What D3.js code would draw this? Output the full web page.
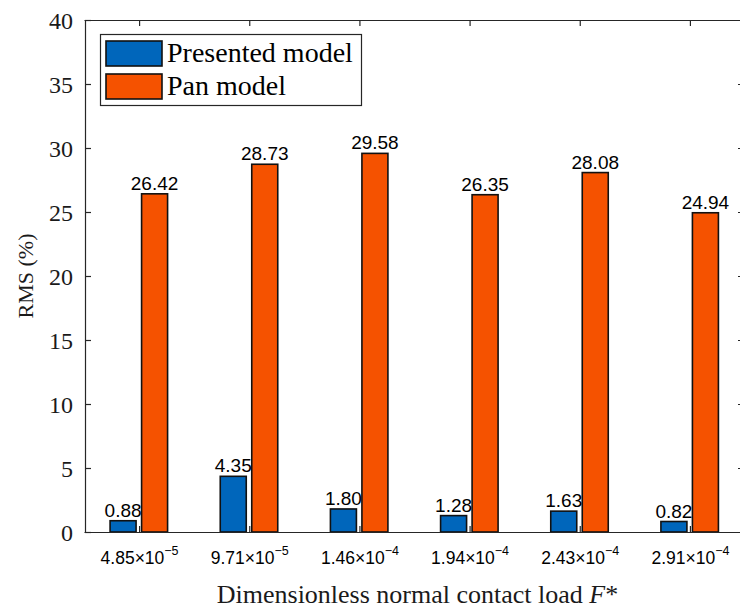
<!DOCTYPE html>
<html>
<head>
<meta charset="utf-8">
<script src="https://cdn.jsdelivr.net/npm/d3@7"></script>
<style>
  body { margin: 0; background: #fff; }
  svg { display: block; }
</style>
</head>
<body>
<svg id="chart" width="740" height="608"></svg>
<script>
const categoryMantissa = ["4.85", "9.71", "1.46", "1.94", "2.43", "2.91"];
const categoryExponent = ["\u22125", "\u22125", "\u22124", "\u22124", "\u22124", "\u22124"];
const seriesNames = ["Presented model", "Pan model"];
const presentedValues = [0.88, 4.35, 1.80, 1.28, 1.63, 0.82];
const panValues = [26.42, 28.73, 29.58, 26.35, 28.08, 24.94];
const valueLabelsPresented = ["0.88", "4.35", "1.80", "1.28", "1.63", "0.82"];
const valueLabelsPan = ["26.42", "28.73", "29.58", "26.35", "28.08", "24.94"];
const yTicks = [0, 5, 10, 15, 20, 25, 30, 35, 40];

const colors = ["#0066BB", "#F55200"];
const axisColor = "#262626";
const serif = "'Liberation Serif', 'Times New Roman', serif";
const sans = "'Liberation Sans', Arial, sans-serif";

const svg = d3.select("#chart");
const mLeft = 85, mRight = 744, mTop = 20, mBottom = 532;

const idx = categoryMantissa.map((d, i) => i + 1);
const x = d3.scaleLinear().domain([0.5, 6.5]).range([mLeft - 1, mRight + 1]);
const y = d3.scaleLinear().domain([0, 40]).range([mBottom, mTop]);

const barW = 26;
const offsets = [-16, 15.5];

const series = [presentedValues, panValues];
const labels = [valueLabelsPresented, valueLabelsPan];

// bars
series.forEach((vals, s) => {
  const g = svg.append("g");
  g.selectAll("rect").data(vals).join("rect")
    .attr("x", (d, i) => x(idx[i]) + offsets[s] - barW / 2)
    .attr("y", d => y(d))
    .attr("width", barW)
    .attr("height", d => y(0) - y(d))
    .attr("fill", colors[s])
    .attr("stroke", "#111")
    .attr("stroke-width", 1.6);
  g.selectAll("text").data(vals).join("text")
    .attr("x", (d, i) => x(idx[i]) + offsets[s])
    .attr("y", d => y(d) - 4)
    .attr("text-anchor", "middle")
    .style("font-family", sans)
    .style("font-size", "19px")
    .attr("fill", "#000")
    .text((d, i) => labels[s][i]);
});

// axes
function styleAxis(g) {
  g.selectAll("path.domain").attr("stroke", axisColor).attr("stroke-width", 1.2);
  g.selectAll(".tick line").attr("stroke", axisColor).attr("stroke-width", 1.2);
}

const yAxisL = svg.append("g").attr("transform", `translate(${mLeft},0)`)
  .call(d3.axisLeft(y).tickValues(yTicks).tickSizeInner(-6).tickSizeOuter(0).tickPadding(12).tickFormat(d3.format("d")));
styleAxis(yAxisL);
yAxisL.selectAll("text")
  .style("font-family", serif)
  .style("font-size", "24px").attr("fill", "#1a1a1a").attr("dy", "0.34em");

const yAxisR = svg.append("g").attr("transform", `translate(${mRight},0)`)
  .call(d3.axisRight(y).tickValues(yTicks).tickSizeInner(-6).tickSizeOuter(0).tickFormat(""));
styleAxis(yAxisR);

const xAxisB = svg.append("g").attr("transform", `translate(0,${mBottom})`)
  .call(d3.axisBottom(x).tickValues(idx).tickSizeInner(-6).tickSizeOuter(0).tickFormat(""));
styleAxis(xAxisB);
xAxisB.selectAll(".tick").each(function(d, i) {
  const t = d3.select(this).append("text")
    .attr("y", 19.5)
    .attr("dy", "0.71em")
    .attr("text-anchor", "middle")
    .style("font-family", sans)
    .style("font-size", "17.5px")
    .attr("fill", "#000");
  t.append("tspan").text(categoryMantissa[i] + "\u00D710");
  t.append("tspan").style("font-size", "12.5px").attr("dy", "-0.75em").text(categoryExponent[i]);
});

const xAxisT = svg.append("g").attr("transform", `translate(0,${mTop})`)
  .call(d3.axisTop(x).tickValues(idx).tickSizeInner(-6).tickSizeOuter(0).tickFormat(""));
styleAxis(xAxisT);

// axis titles
const xTitle = svg.append("text")
  .attr("x", (mLeft + mRight) / 2 + 3)
  .attr("y", 603)
  .attr("text-anchor", "middle")
  .style("font-family", serif)
  .style("font-size", "26px")
  .attr("fill", "#1a1a1a");
xTitle.append("tspan").text("Dimensionless normal contact load ");
xTitle.append("tspan").style("font-style", "italic").text("F");
xTitle.append("tspan").text("*");

svg.append("text")
  .attr("transform", `translate(33,${(mTop + mBottom) / 2}) rotate(-90)`)
  .attr("text-anchor", "middle")
  .style("font-family", serif)
  .style("font-size", "22px")
  .attr("fill", "#1a1a1a")
  .text("RMS (%)");

// legend
const leg = svg.append("g");
leg.append("rect").attr("x", 100.5).attr("y", 34.5).attr("width", 261).attr("height", 71)
  .attr("fill", "#fff").attr("stroke", axisColor).attr("stroke-width", 1.2);
seriesNames.forEach((name, s) => {
  const yy = 41 + s * 33;
  leg.append("rect").attr("x", 106).attr("y", yy).attr("width", 56).attr("height", 25)
    .attr("fill", colors[s]).attr("stroke", "#111").attr("stroke-width", 1.6);
  leg.append("text").attr("x", 167).attr("y", yy + 21)
    .style("font-family", serif)
    .style("font-size", "28px").attr("fill", "#000").text(name);
});
</script>
</body>
</html>
